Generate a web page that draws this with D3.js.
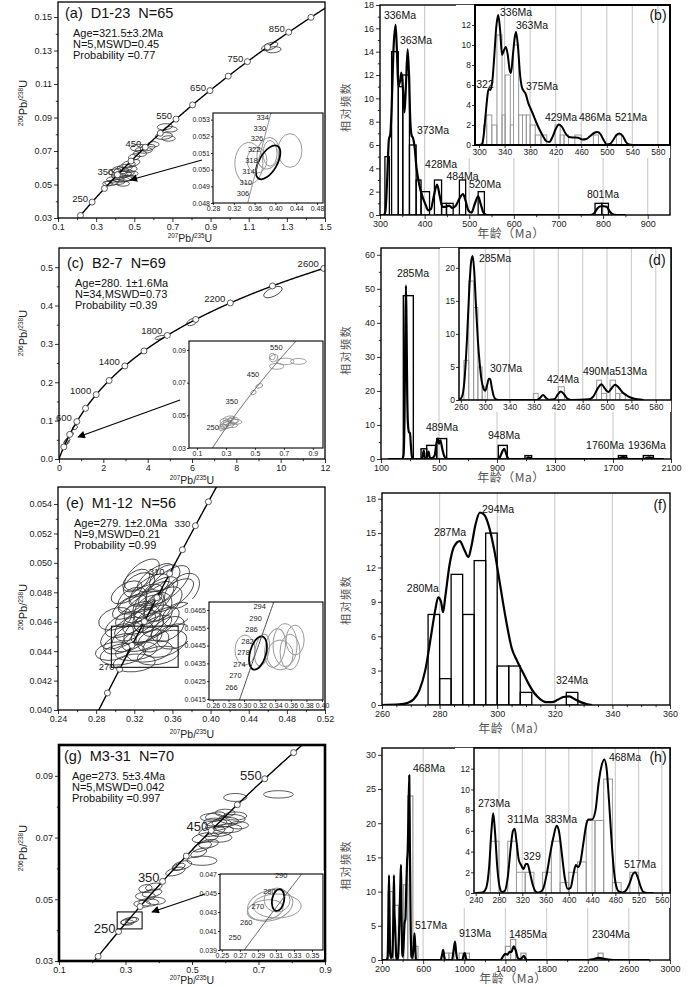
<!DOCTYPE html>
<html><head><meta charset="utf-8">
<script src="https://cdn.jsdelivr.net/npm/d3@7"></script>
<style>body{margin:0;background:#fff;} svg{display:block;}</style>
</head><body>
<script>
// ================= DATA =================
// ---- (a) D1-23 concordia ----
const ageMarksA = [200,250,300,350,400,450,500,550,600,650,700,750,800,850,900];
const ageLabelsA = [250,350,450,550,650,750,850];
const statsA = ["Age=321.5±3.2Ma","N=5,MSWD=0.45","Probability =0.77"];
// [207Pb/235U, 206Pb/238U, half-width x, half-height y, tilt deg]
const ellipsesA = [
 [0.40,0.0575,0.035,0.0018,-10],[0.43,0.058,0.04,0.002,-10],[0.45,0.060,0.04,0.002,-5],[0.47,0.062,0.035,0.002,-10],
 [0.42,0.055,0.04,0.0018,0],[0.44,0.056,0.045,0.0018,-5],[0.46,0.057,0.04,0.0018,0],[0.39,0.053,0.035,0.0016,0],
 [0.43,0.053,0.045,0.0016,0],[0.45,0.0535,0.04,0.0016,0],[0.38,0.051,0.035,0.0015,0],[0.41,0.0515,0.04,0.0015,0],
 [0.48,0.059,0.035,0.0018,-10],[0.50,0.063,0.03,0.0018,-15],[0.44,0.0505,0.035,0.0015,0],[0.47,0.054,0.035,0.0016,0],
 [0.41,0.059,0.03,0.0016,-15],[0.49,0.0565,0.03,0.0015,0],[0.36,0.0505,0.025,0.0014,0],
 [0.52,0.0720,0.04,0.002,-5],[0.55,0.0705,0.045,0.0018,0],[0.57,0.072,0.04,0.0018,-10],[0.53,0.0685,0.035,0.0018,0],
 [0.50,0.0665,0.03,0.0018,-10],[0.60,0.074,0.03,0.0016,0],
 [0.66,0.0845,0.04,0.0018,-5],[0.69,0.083,0.035,0.0016,0],[0.655,0.079,0.045,0.002,-5],[0.68,0.0775,0.035,0.0016,0],
 [1.21,0.1325,0.045,0.002,-20],[1.23,0.1305,0.04,0.0018,-5]
];
const insetAgesA = [306,310,314,318,322,326,330,334];
const insetEllA = [[0.349,0.05038,0.027,0.00125,0],[0.428,0.05115,0.023,0.00101,0],[0.386,0.05098,0.021,0.00095,10],
 [0.3896,0.05098,0.0135,0.00077,0],[0.3646,0.05056,0.019,0.00077,0]];
const insetBestA = [[0.386,0.05044,0.0173,0.00113,30]];

// ---- (c) B2-7 concordia ----
const ageMarksC = [200,400,600,800,1000,1200,1400,1600,1800,2000,2200,2400,2600];
const ageLabelsC = [600,1000,1400,1800,2200,2600];
const statsC = ["Age=280. 1±1.6Ma","N=34,MSWD=0.73","Probability =0.39"];
const ellipsesC = [[4.55,0.317,0.22,0.004,-15],[6.0,0.357,0.25,0.008,-25],[9.65,0.435,0.45,0.011,-25],
 [0.35,0.045,0.10,0.006,-40],[0.40,0.050,0.10,0.005,-40],[0.30,0.042,0.08,0.005,-40],[0.55,0.066,0.10,0.005,-40],[0.72,0.082,0.12,0.005,-30]];
const insetAgesC = [250,350,450,550];
const insetEllC = [[0.30,0.045,0.04,0.002,-20],[0.33,0.046,0.05,0.002,-10],[0.28,0.043,0.03,0.0015,0],[0.35,0.047,0.04,0.002,0],
 [0.31,0.044,0.05,0.002,-15],[0.37,0.046,0.04,0.0015,0],[0.29,0.046,0.03,0.002,0],[0.32,0.048,0.04,0.0015,-10],
 [0.34,0.044,0.04,0.0015,0],[0.27,0.042,0.02,0.0015,-20],[0.49,0.064,0.02,0.0012,-30],[0.53,0.068,0.025,0.0012,-20],
 [0.63,0.085,0.03,0.002,-30],[0.65,0.080,0.05,0.0018,0],[0.71,0.083,0.06,0.002,0],[0.80,0.083,0.055,0.0018,0],[0.62,0.086,0.02,0.002,0]];

// ---- (e) M1-12 concordia ----
const ageMarksE = [260,270,280,290,300,310,320,330,340];
const ageLabelsE = [270,310,330];
const statsE = ["Age=279. 1±2.0Ma","N=9,MSWD=0.21","Probability =0.99"];
const ellipsesE = [
 [0.330,0.0470,0.024,0.0007,-35],[0.320,0.0465,0.022,0.0006,-30],[0.340,0.0475,0.026,0.0008,-40],[0.325,0.0460,0.019,0.0007,-30],
 [0.335,0.0468,0.018,0.0008,-45],[0.345,0.0480,0.024,0.0007,-35],[0.315,0.0470,0.020,0.0006,-30],[0.350,0.0472,0.024,0.0008,-40],
 [0.310,0.0458,0.022,0.0007,-25],[0.338,0.0455,0.024,0.0006,-30],[0.328,0.0448,0.022,0.0007,-20],[0.318,0.0450,0.024,0.0008,-30],
 [0.305,0.0445,0.018,0.0006,-20],[0.348,0.0460,0.022,0.0007,-35],[0.355,0.0485,0.028,0.0008,-40],[0.360,0.0478,0.026,0.0007,-35],
 [0.342,0.0490,0.022,0.0006,-35],[0.325,0.0485,0.018,0.0007,-30],[0.332,0.0478,0.019,0.0006,-25],[0.312,0.0480,0.018,0.0006,-30],
 [0.300,0.0462,0.018,0.0007,-20],[0.336,0.0440,0.024,0.0007,-10],[0.352,0.0445,0.024,0.0008,-20],[0.362,0.0450,0.019,0.0008,-20],
 [0.322,0.0440,0.022,0.0006,-10],[0.308,0.0438,0.024,0.0007,-10],[0.298,0.0440,0.019,0.0006,-10],[0.345,0.0437,0.022,0.0006,-10],
 [0.330,0.0455,0.024,0.0008,-35],[0.340,0.0462,0.022,0.0007,-30],[0.318,0.0475,0.017,0.0007,-35],[0.328,0.0492,0.022,0.0007,-40],
 [0.345,0.0470,0.017,0.0008,-50],[0.365,0.0465,0.017,0.0007,-30],[0.370,0.0481,0.022,0.0009,-45],[0.315,0.0455,0.017,0.0007,-30],
 [0.326,0.0473,0.024,0.0006,-20],[0.336,0.0482,0.024,0.0007,-35],[0.302,0.0450,0.019,0.0007,-30],[0.355,0.0455,0.019,0.0007,-30],
 [0.320,0.0432,0.022,0.0006,-5],[0.340,0.0447,0.017,0.0007,-20],[0.333,0.0462,0.016,0.0008,-45],[0.352,0.0490,0.018,0.0007,-35],
 [0.322,0.0488,0.016,0.0006,-35]];
const boxE = [0.296,0.366,0.0429,0.0457];
const insetAgesE = [266,270,274,278,282,286,290,294];
const insetEllE = [[0.3012,0.04425,0.0128,0.00084,0],[0.3231,0.04425,0.009,0.0009,10],[0.3398,0.04436,0.0128,0.0011,10],
 [0.3526,0.04453,0.0154,0.0012,0],[0.359,0.04414,0.0128,0.0010,0],[0.3462,0.04397,0.0167,0.00084,0],[0.3655,0.04481,0.0116,0.00084,0]];
const insetBestE = [[0.3179,0.04408,0.0103,0.00096,15]];

// ---- (g) M3-31 concordia ----
const ageMarksG = [200,250,300,350,400,450,500,550,600];
const ageLabelsG = [250,350,450,550];
const statsG = ["Age=273. 5±3.4Ma","N=5,MSWD=0.042","Probability =0.997"];
const ellipsesG = [
 [0.31,0.0430,0.025,0.0010,-15],[0.32,0.0432,0.02,0.0008,-10],[0.305,0.0425,0.02,0.0009,0],
 [0.36,0.051,0.03,0.0013,0],[0.38,0.052,0.03,0.0012,-10],[0.37,0.049,0.03,0.0012,0],[0.35,0.0485,0.025,0.0011,0],
 [0.39,0.0495,0.03,0.0012,0],[0.36,0.0535,0.02,0.0012,-10],[0.385,0.054,0.025,0.0012,-10],
 [0.45,0.059,0.03,0.0012,-15],[0.47,0.061,0.03,0.0013,-15],[0.46,0.0605,0.02,0.001,-20],[0.53,0.0625,0.045,0.0015,0],
 [0.54,0.070,0.04,0.0015,-10],[0.56,0.072,0.04,0.0015,-10],[0.58,0.074,0.04,0.0016,-10],[0.60,0.075,0.04,0.0015,-5],
 [0.62,0.076,0.04,0.0015,0],[0.57,0.075,0.035,0.0013,0],[0.59,0.072,0.035,0.0015,-10],[0.55,0.068,0.03,0.0013,-10],
 [0.53,0.067,0.03,0.0013,-20],[0.61,0.073,0.04,0.0014,0],[0.63,0.077,0.035,0.0013,0],[0.60,0.078,0.03,0.0012,0],
 [0.57,0.077,0.03,0.0012,-10],[0.58,0.070,0.04,0.0015,0],[0.52,0.065,0.025,0.0012,-20],[0.64,0.074,0.03,0.0012,0],
 [0.56,0.0765,0.035,0.0013,0],[0.63,0.083,0.035,0.0013,0],[0.76,0.084,0.045,0.0012,0]];
const boxG = [0.275,0.35,0.0404,0.0459];
const insetAgesG = [250,260,270,280,290];
const insetEllG = [[0.3036,0.04368,0.0256,0.00158,-15],[0.3113,0.04363,0.0267,0.00126,0],[0.3113,0.04426,0.0144,0.00126,0],[0.298,0.04321,0.02,0.00105,-10]];
const insetBestG = [[0.3124,0.04426,0.0067,0.00116,10]];

// ---- (b) histogram ----
const barsB = [[311,321,5],[326,341,14],[341,351,11],[351,366,12],[366,381,6],[381,392,3],[392,411,2],[422,438,3],
 [438,449,1],[449,464,1],[478,492,3],[520,534,2],[782,797,1],[797,812,1]];
const curveB = [[300,0],[308,0],[312,0.3],[316,3],[320,6.5],[323,6.9],[326,9],[330,14],[335,16.3],[338,14],[341,11],[345,11.5],
 [348,12.2],[351,11],[355,8.8],[358,11],[362,14.2],[365,12],[368,8],[371,6.8],[374,6.6],[377,6],[382,4],[388,2.6],[395,1.6],
 [402,0.9],[408,0.4],[414,0.5],[420,1.5],[428,2.6],[434,1.6],[440,0.7],[447,0.7],[455,0.8],[462,0.6],[470,0.8],[478,1.4],
 [486,1.8],[492,1.2],[498,0.4],[505,0.2],[512,0.9],[520,1.6],[526,0.9],[532,0.2],[540,0],[770,0],[780,0.15],[788,0.6],
 [795,0.75],[802,0.75],[808,0.7],[815,0.3],[822,0.05],[830,0],[850,0]];
const peaksB = [["336Ma",344.8,17.15],["363Ma",380.7,15.0],["373Ma",418.8,7.3],["428Ma",437,4.35],["484Ma",485,3.3],
 ["520Ma",535.3,2.6],["801Ma",799.8,1.78]];
const barsBi = [[307,312,2],[312,320,3],[320,328,2],[328,336,11],[336,341,3],[341,349,7],[349,354,2],[354,362,10],[362,368,3],
 [368,374,3],[374,380,3],[380,388,2],[388,397,1],[397,406,1],[419,427,2],[427,433,1],[433,440,1],[450,460,1],[479,487,1],[515,523,1]];
const curveBi = [[300,0],[304,0.05],[307,0.8],[310,2.8],[313,4.8],[315,5.6],[318,5.5],[321,6.5],[324,9],[327,11.8],[330,13],
 [333,11.5],[336,9],[338,9.3],[342,9.8],[345,9],[348,7.5],[350,7.2],[353,9],[356,10.8],[358,11.3],[361,9.8],[364,7.2],[367,5.8],
 [370,5.4],[373,5.1],[377,4.2],[381,3.6],[385,3.0],[390,2.2],[395,1.5],[400,0.9],[405,0.4],[410,0.3],[415,0.8],[420,1.6],
 [425,2.06],[430,1.8],[435,1.2],[441,0.8],[448,0.75],[455,0.72],[462,0.55],[468,0.6],[474,0.9],[480,1.2],[485,1.3],[490,1.1],
 [495,0.5],[500,0.05],[505,0.1],[510,0.5],[515,1.0],[520,1.15],[525,0.9],[530,0.3],[535,0.05],[540,0]];
const peaksBi = [["336Ma",357.9,13.27],["363Ma",382.9,12.0],["322",309.4,6.1],["375Ma",398.6,5.9],["429Ma",428.3,2.75],
 ["486Ma",481.5,2.75],["521Ma",537.9,2.75]];

// ---- (d) histogram ----
const barsD = [[254,323,48],[376,415,3],[415,484,4],[484,553,6],[909,971,4],[1093,1139,1],[1737,1794,1],[1909,1978,1]];
const curveD = [[150,0],[245,0],[255,1],[262,12],[267,35],[272,51],[276,40],[280,22],[285,11],[292,8],[300,7.5],[306,4],[312,1],
 [320,0],[370,0],[385,0.5],[395,2.5],[402,0.5],[412,0.3],[420,1],[428,2.2],[436,0.5],[450,0.2],[470,1],[482,4.5],[492,6],
 [500,4.5],[510,5.5],[520,3.5],[535,1],[550,0.2],[560,0],[910,0],[925,1],[940,2.5],[950,3],[960,2],[972,0.5],[985,0],
 [1100,0],[1115,0.5],[1130,0.3],[1145,0],[1730,0],[1750,0.3],[1770,0.6],[1790,0.3],[1810,0],[1910,0],[1930,0.3],[1950,0.5],
 [1970,0.2],[1990,0],[2050,0]];
const peaksD = [["285Ma",320.7,54.7],["489Ma",520.7,9.4],["948Ma",948,7.06],["1760Ma",1645,4.1],["1936Ma",1934,4.1]];
const barsDi = [[265,273,6],[273,281,18],[281,288,14],[288,295,5],[295,304,2],[379,387,1],[420,430,2],[483,491,3],[491,499,1],
 [505,514,3],[514,521,1],[521,530,1]];
const curveDi = [[257,0],[262,0.5],[266,3],[270,9],[274,17],[277,21],[279.5,21.8],[282,19.5],[285,14],[288,9],[291,5.5],[294,3],
 [297,1.8],[300,1.4],[303,2.2],[306,3.2],[308,3.2],[311,1.8],[314,0.6],[318,0.1],[325,0],[385,0],[390,0.3],[395,0.75],[400,0.3],
 [405,0.05],[413,0.1],[419,0.8],[424,1.3],[429,0.9],[435,0.2],[442,0],[470,0.1],[478,0.6],[485,1.8],[491,2.4],[496,1.8],
 [502,1.2],[507,1.7],[513,2.3],[519,1.9],[526,1.1],[534,0.6],[541,0.3],[550,0.1],[560,0]];
const peaksDi = [["285Ma",316.1,21.5],["307Ma",334.2,4.84],["424Ma",427.7,3.18],["490Ma513Ma",513.1,4.39]];

// ---- (f) histogram ----
const barsF = [[276,280,7.9],[280,284,2.3],[284,288,11.4],[288,292,7.9],[292,296,12.6],[296,300,15],[300,304,3.4],[304,308,3.4],
 [308,312,1.1],[324,328,1.1]];
const curveF = [[260,0],[266,0.05],[269,0.2],[271,0.5],[273,1.3],[275,3],[277,6],[278.5,8.3],[279.5,9.4],[280.5,9],[281.2,8.1],
 [282,9.5],[283.5,12.3],[285,13.8],[287,14.3],[288.5,13.6],[290,12.9],[291,13.8],[292.5,15.8],[294,16.8],[295.5,16.6],[297,15.7],
 [299,13.5],[301,10.5],[303,7.5],[305,5],[307,3.8],[309,2.8],[311,1.8],[313,1],[315,0.5],[317,0.25],[319,0.25],[321,0.45],
 [323,0.7],[325,0.75],[327,0.5],[329,0.25],[331,0.08],[333,0]];
const peaksF = [["280Ma",274.2,10.2],["287Ma",283.6,15.1],["294Ma",300.3,17.1],["324Ma",326,2.18]];

// ---- (h) histogram ----
const barsH = [[260,310,10],[310,360,8],[360,410,5],[410,450,11],[450,500,24],[500,550,2],[800,850,1],[850,900,1],[950,1000,1],
 [1000,1050,1],[1400,1450,2],[1450,1500,3],[1550,1600,1],[2300,2350,1]];
const curveH = [[200,0],[245,0],[255,0.5],[262,6],[268,12.4],[274,6],[279,1],[288,0.3],[298,0.5],[310,6],[316,12.4],[321,7],
 [326,5.5],[332,3],[338,0.5],[346,0.1],[356,0.5],[370,6],[380,12],[385,13.9],[390,7],[397,1],[403,0.5],[412,3],[420,5.5],
 [428,6],[436,10.5],[444,14.5],[450,16],[457,21],[465,27],[471,17],[478,6],[486,0.5],[496,0.3],[508,2],[516,3.9],[523,2],
 [530,0.1],[540,0],[770,0],[785,0.8],[795,1.5],[805,0.5],[815,0],[880,0],[900,1.8],[910,2.7],[920,1.2],[935,0],[980,0],
 [995,0.8],[1005,1],[1018,0.2],[1030,0],[1350,0],[1380,0.6],[1400,0.9],[1420,0.8],[1440,1.2],[1460,1.2],[1480,2],[1500,1.4],
 [1520,0.3],[1545,0.1],[1565,0.4],[1580,0.6],[1595,0.2],[1610,0],[2200,0],[2260,0.15],[2304,0.3],[2350,0.2],[2400,0.05],
 [2450,0],[2800,0]];
const peaksH = [["468Ma",657,28],["517Ma",676,5.1],["913Ma",1104,3.95],["1485Ma",1619,3.8],["2304Ma",2426,3.8]];
const barsHi = [[265,280,5],[295,310,5],[310,325,2],[325,340,2],[355,370,2],[370,385,5],[385,400,1],[400,415,2],[415,430,3],
 [430,445,7],[445,460,7],[460,475,11],[475,490,1],[505,520,2]];
const curveHi = [[240,0],[252,0.05],[258,0.5],[263,2.5],[267,6],[270,7.7],[273,6],[277,2.5],[281,0.6],[285,0.1],[290,0.2],
 [295,1.5],[300,4.3],[304,6],[307,6.2],[310,5],[314,3.2],[318,2.7],[322,2.3],[326,2.8],[329,2.8],[333,2],[338,0.8],[343,0.15],
 [348,0.05],[355,0.3],[362,1.8],[368,3.8],[374,5.5],[379,6.5],[383,6],[388,3.8],[393,1.5],[398,0.4],[403,0.5],[408,1.8],
 [412,2.7],[416,2.5],[420,3],[425,4.8],[430,6.6],[434,7.1],[440,7.1],[446,8],[451,10.5],[456,12.2],[461,12.9],[465,12],
 [469,9],[473,5.5],[477,2.5],[481,0.8],[486,0.15],[492,0.05],[499,0.3],[505,1],[510,1.8],[514,2],[518,1.6],[523,0.7],
 [528,0.1],[535,0],[545,0]];
const peaksHi = [["273Ma",271.4,8.7],["311Ma",321.3,7.1],["383Ma",386.6,7.1],["329",336.7,3.57],["468Ma",496.6,13.1],["517Ma",522.4,2.8]];

// ---- tick labels ----
const ticksAx = [0.1,0.3,0.5,0.7,0.9,1.1,1.3,1.5], ticksAy = [0.03,0.05,0.07,0.09,0.11,0.13,0.15];
const ticksAix = [0.28,0.32,0.36,0.40,0.44,0.48], ticksAiy = [0.048,0.049,0.050,0.051,0.052,0.053];
const ticksCx = [0,2,4,6,8,10,12], ticksCy = [0,0.1,0.2,0.3,0.4,0.5];
const ticksCix = [0.1,0.3,0.5,0.7,0.9], ticksCiy = [0.03,0.05,0.07,0.09];
const ticksEx = [0.24,0.28,0.32,0.36,0.40,0.44,0.48,0.52], ticksEy = [0.040,0.042,0.044,0.046,0.048,0.050,0.052,0.054];
const ticksEix = [0.26,0.28,0.30,0.32,0.34,0.36,0.38,0.40], ticksEiy = [0.0415,0.0425,0.0435,0.0445,0.0455,0.0465];
const ticksGx = [0.1,0.3,0.5,0.7,0.9], ticksGy = [0.03,0.05,0.07,0.09];
const ticksGix = [0.25,0.27,0.29,0.31,0.33,0.35], ticksGiy = [0.039,0.041,0.043,0.045,0.047];
const ticksBx = [300,400,500,600,700,800,900], ticksBy = [0,2,4,6,8,10,12,14,16,18];
const ticksBix = [300,340,380,420,460,500,540,580], ticksBiy = [0,2,4,6,8,10,12];
const ticksDx = [100,500,900,1300,1700,2100], ticksDy = [0,10,20,30,40,50,60];
const ticksDix = [260,300,340,380,420,460,500,540,580], ticksDiy = [0,5,10,15,20];
const ticksFx = [260,280,300,320,340,360], ticksFy = [0,3,6,9,12,15,18];
const ticksHx = [200,600,1000,1400,1800,2200,2600,3000], ticksHy = [0,5,10,15,20,25,30];
const ticksHix = [240,280,320,360,400,440,480,520,560], ticksHiy = [0,2,4,6,8,10,12];

// ================= DRAWING =================
const FONT = '"Liberation Sans", Arial, Helvetica, sans-serif';
const CJK = '"Noto Sans CJK SC", "Noto Sans CJK TC", sans-serif';
const svg = d3.select("body").append("svg").attr("width",700).attr("height",987)
  .style("font-family",FONT).style("background","#fff");
const defs = svg.append("defs");
defs.append("marker").attr("id","arr").attr("viewBox","0 0 10 10").attr("refX",9).attr("refY",5)
  .attr("markerWidth",9).attr("markerHeight",7).attr("orient","auto")
  .append("path").attr("d","M0,0L10,5L0,10Z").attr("fill","#000");

const lam238 = 1.55125e-4, lam235 = 9.8485e-4; // per Ma
const r206 = t => Math.expm1(lam238*t), r207 = t => Math.expm1(lam235*t);

let clipN = 0;
function clip(x0,y0,x1,y1){
  const id = "cl"+(clipN++);
  defs.append("clipPath").attr("id",id).append("rect").attr("x",x0).attr("y",y0).attr("width",x1-x0).attr("height",y1-y0);
  return `url(#${id})`;
}
function drawEll(g,list,x,y,stroke,sw){
  g.selectAll(null).data(list).join("ellipse")
   .attr("cx",d=>x(d[0])).attr("cy",d=>y(d[1]))
   .attr("rx",d=>Math.abs(x(d[0]+d[2])-x(d[0]))).attr("ry",d=>Math.abs(y(d[1])-y(d[1]+d[3])))
   .attr("transform",d=>`rotate(${d[4]},${x(d[0])},${y(d[1])})`)
   .attr("fill","none").attr("stroke",stroke).attr("stroke-width",sw);
}
function axes(g,x,y,o){
  const yb = y.range()[0], xl = x.range()[0];
  const ts = o.ts ?? 4, fs = o.fs ?? 9;
  const ax = g.append("g").attr("transform",`translate(0,${yb})`)
    .call(d3.axisBottom(x).tickValues(o.xt).tickFormat(d3.format(o.fx)).tickSize(ts).tickPadding(o.pad ?? 2));
  const ay = g.append("g").attr("transform",`translate(${xl},0)`)
    .call(d3.axisLeft(y).tickValues(o.yt).tickFormat(d3.format(o.fy)).tickSize(ts).tickPadding(o.pad ?? 2));
  const parts = [ax,ay];
  if(o.xm) parts.push(g.append("g").attr("transform",`translate(0,${yb})`).call(d3.axisBottom(x).tickValues(o.xm).tickFormat("").tickSize(ts*0.55)));
  if(o.ym) parts.push(g.append("g").attr("transform",`translate(${xl},0)`).call(d3.axisLeft(y).tickValues(o.ym).tickFormat("").tickSize(ts*0.55)));
  parts.forEach(p=>{
    p.attr("font-size",fs).attr("font-family",FONT);
    p.select(".domain").remove();
    p.selectAll("line").attr("stroke","#000").attr("stroke-width",0.8);
    p.selectAll("text").attr("fill","#1a1a1a");
  });
}
function frame(g,x,y,w){
  const [x0,x1] = x.range(), [y1,y0] = y.range();
  g.append("rect").attr("x",x0).attr("y",y0).attr("width",x1-x0).attr("height",y1-y0)
   .attr("fill","none").attr("stroke","#000").attr("stroke-width",w);
}
function pbLabel(g,cx,cy,rot,a,b,fs){
  const t = g.append("text").attr("transform",`translate(${cx},${cy}) rotate(${rot})`).attr("text-anchor","middle")
    .attr("font-size",fs).attr("fill","#222");
  t.append("tspan").attr("font-size",fs*0.6).attr("dy",-fs*0.4).text(a);
  t.append("tspan").attr("dy",fs*0.4).text("Pb/");
  t.append("tspan").attr("font-size",fs*0.6).attr("dy",-fs*0.4).text(b);
  t.append("tspan").attr("dy",fs*0.4).text("U");
}
function cjkLabel(g,cx,cy,rot,str,fs){
  g.append("text").attr("transform",`translate(${cx},${cy}) rotate(${rot})`).attr("text-anchor","middle")
   .attr("font-family",CJK).attr("font-size",fs).attr("fill","#555").attr("letter-spacing",rot?1.5:0.5).text(str);
}
function infoText(g,x,y,title,stats){
  g.append("text").attr("x",x).attr("y",y).attr("font-size",14.5).attr("fill","#111").style("white-space","pre").text(title);
  stats.forEach((s,i)=>g.append("text").attr("x",x+8).attr("y",y+19+i*11).attr("font-size",11).attr("fill","#111").text(s));
}

function concPanel(o){
  const g = svg.append("g");
  const x = d3.scaleLinear().domain(o.xd).range([o.x0,o.x1]);
  const y = d3.scaleLinear().domain(o.yd).range([o.y1,o.y0]);
  if(o.bg) g.append("rect").attr("x",o.bg[0]).attr("y",o.bg[1]).attr("width",o.bg[2]-o.bg[0]).attr("height",o.bg[3]-o.bg[1]).attr("fill","#fff");
  const pg = g.append("g").attr("clip-path",clip(o.x0,o.y0,o.x1,o.y1));
  drawEll(pg,o.ell,x,y,o.ellColor,o.ellW);
  if(o.best) drawEll(pg,o.best,x,y,"#000",1.8);
  const ts = d3.range(o.tr[0],o.tr[1],o.step).concat([o.tr[1]]);
  pg.append("path").datum(ts).attr("d",d3.line().x(t=>x(r207(t))).y(t=>y(r206(t))))
    .attr("fill","none").attr("stroke",o.lineColor).attr("stroke-width",o.lineW);
  if(o.marks) pg.selectAll(null).data(o.marks).join("circle").attr("cx",t=>x(r207(t))).attr("cy",t=>y(r206(t)))
    .attr("r",o.cr).attr("fill","#fff").attr("stroke","#333").attr("stroke-width",0.8);
  if(o.box) pg.append("rect").attr("x",x(o.box[0])).attr("y",y(o.box[3])).attr("width",x(o.box[1])-x(o.box[0]))
    .attr("height",y(o.box[2])-y(o.box[3])).attr("fill","none").attr("stroke","#111").attr("stroke-width",1.1);
  g.selectAll(null).data(o.labels).join("text").attr("x",t=>x(r207(t))+o.ldx).attr("y",t=>y(r206(t))+o.ldy)
    .attr("text-anchor","end").attr("font-size",o.lfs).attr("fill","#222").text(t=>t);
  axes(g,x,y,o.ax);
  frame(g,x,y,o.fw);
  return {x,y,g};
}
function histPanel(o){
  const g = svg.append("g");
  const x = d3.scaleLinear().domain(o.xd).range([o.x0,o.x1]);
  const y = d3.scaleLinear().domain(o.yd).range([o.y1,o.y0]);
  if(o.bg) g.append("rect").attr("x",o.bg[0]).attr("y",o.bg[1]).attr("width",o.bg[2]-o.bg[0]).attr("height",o.bg[3]-o.bg[1]).attr("fill","#fff");
  g.selectAll(null).data(o.grid).join("line").attr("x1",d=>x(d)).attr("x2",d=>x(d)).attr("y1",o.y0).attr("y2",o.y1)
    .attr("stroke","#cfcfcf").attr("stroke-width",1.2);
  const pg = g.append("g").attr("clip-path",clip(o.x0,o.y0,o.x1,o.y1));
  pg.selectAll(null).data(o.bars).join("rect").attr("x",d=>x(d[0])).attr("width",d=>x(d[1])-x(d[0]))
    .attr("y",d=>y(d[2])).attr("height",d=>y(0)-y(d[2])).attr("fill","none").attr("stroke",o.barColor).attr("stroke-width",o.barW);
  pg.append("path").datum(o.curve).attr("d",d3.line().x(d=>x(d[0])).y(d=>y(d[1])).curve(d3.curveMonotoneX))
    .attr("fill","none").attr("stroke","#000").attr("stroke-width",o.cw).attr("stroke-linejoin","round");
  g.selectAll(null).data(o.labels).join("text").attr("x",d=>x(d[1])).attr("y",d=>y(d[2])).attr("dy","0.35em")
    .attr("text-anchor","middle").attr("font-size",o.lfs).attr("fill","#111").text(d=>d[0]);
  axes(g,x,y,o.ax);
  frame(g,x,y,o.fw);
  return {x,y,g};
}
function arrow(p,from,to){
  svg.append("line").attr("x1",p.x(from[0])).attr("y1",p.y(from[1])).attr("x2",p.x(to[0])).attr("y2",p.y(to[1]))
    .attr("stroke","#000").attr("stroke-width",1.1).attr("marker-end","url(#arr)");
}
function panelTag(x,y,s){ svg.append("text").attr("x",x).attr("y",y).attr("font-size",14).attr("fill","#111").attr("text-anchor","middle").text(s); }

// ---------- (a) ----------
const pA = concPanel({xd:[0.1,1.5],yd:[0.03,0.159],x0:58,x1:325,y0:2,y1:218,ell:ellipsesA,ellColor:"#333",ellW:0.8,
  tr:[190,960],step:2,lineColor:"#000",lineW:1.4,marks:ageMarksA,cr:3,labels:ageLabelsA,ldx:-4,ldy:0,lfs:9.5,fw:1.3,
  ax:{xt:ticksAx,yt:ticksAy,fx:".1f",fy:".2f",xm:d3.range(0.2,1.45,0.2),ym:d3.range(0.04,0.155,0.02),fs:9}});
infoText(svg,65,18,"(a)  D1-23  N=65",statsA);
pbLabel(svg,27,103,-90,"206","238",11);
pbLabel(svg,190,242,0,"207","235",10.5);
const pAi = concPanel({xd:[0.28,0.4915],yd:[0.048,0.0534],x0:213,x1:323,y0:113,y1:203,bg:[190,110,324,215],
  ell:insetEllA,ellColor:"#999",ellW:1,best:insetBestA,tr:[300,340],step:0.5,lineColor:"#888",lineW:1,
  labels:insetAgesA,ldx:-1,ldy:3,lfs:7.5,fw:1.1,ax:{xt:ticksAix,yt:ticksAiy,fx:".2f",fy:".3f",fs:7,ts:2,pad:1}});
arrow(pA,[0.855,0.0646],[0.478,0.0527]);

// ---------- (c) ----------
const pC = concPanel({xd:[0,12],yd:[0,0.55],x0:59,x1:325,y0:248,y1:459,ell:ellipsesC,ellColor:"#333",ellW:0.8,
  tr:[0,2620],step:5,lineColor:"#000",lineW:1.4,marks:ageMarksC,cr:3,labels:ageLabelsC,ldx:-5,ldy:-1,lfs:9.5,fw:1.3,
  ax:{xt:ticksCx,yt:ticksCy,fx:"d",fy:".1f",xm:d3.range(1,12,2),ym:d3.range(0.05,0.55,0.1),fs:9}});
infoText(svg,67,268,"(c)  B2-7  N=69",statsC);
pbLabel(svg,27,333,-90,"206","238",11);
pbLabel(svg,192,484,0,"207","235",10.5);
const pCi = concPanel({xd:[0.045,0.97],yd:[0.03,0.0955],x0:189,x1:323,y0:341,y1:448,bg:[168,338,324,458],
  ell:insetEllC,ellColor:"#888",ellW:0.8,tr:[150,640],step:2,lineColor:"#555",lineW:1,
  labels:insetAgesC,ldx:-4,ldy:-2,lfs:7.5,fw:1.1,ax:{xt:ticksCix,yt:ticksCiy,fx:".1f",fy:".2f",fs:7,ts:2,pad:1}});
arrow(pC,[5.46,0.1538],[0.857,0.0574]);

// ---------- (e) ----------
const pE = concPanel({xd:[0.24,0.52],yd:[0.040,0.05516],x0:58,x1:325,y0:487,y1:710,ell:ellipsesE,ellColor:"#333",ellW:0.8,
  tr:[250,350],step:1,lineColor:"#000",lineW:1.4,marks:ageMarksE,cr:3,labels:ageLabelsE,ldx:-5,ldy:1,lfs:9.5,fw:1.3,box:boxE,
  ax:{xt:ticksEx,yt:ticksEy,fx:".2f",fy:".3f",xm:d3.range(0.26,0.52,0.04),ym:d3.range(0.041,0.055,0.002),fs:9}});
infoText(svg,66,508,"(e)  M1-12  N=56",statsE);
pbLabel(svg,27,607,-90,"206","238",11);
pbLabel(svg,192,738,0,"207","235",10.5);
const pEi = concPanel({xd:[0.255,0.4013],yd:[0.04144,0.04695],x0:209,x1:323,y0:602,y1:700,bg:[188,599,324,709],
  ell:insetEllE,ellColor:"#999",ellW:1,best:insetBestE,tr:[255,300],step:0.5,lineColor:"#444",lineW:1,
  labels:insetAgesE,ldx:-6,ldy:2,lfs:7.5,fw:1.1,ax:{xt:ticksEix,yt:ticksEiy,fx:".2f",fy:".4f",fs:7,ts:2,pad:1}});

// ---------- (g) ----------
const pG = concPanel({xd:[0.1,0.9],yd:[0.03,0.1],x0:59,x1:325,y0:745,y1:961,ell:ellipsesG,ellColor:"#333",ellW:0.8,
  tr:[190,620],step:1,lineColor:"#000",lineW:1.4,marks:ageMarksG,cr:3,labels:ageLabelsG,ldx:-3,ldy:1,lfs:13,fw:2.6,box:boxG,
  ax:{xt:ticksGx,yt:ticksGy,fx:".1f",fy:".2f",xm:d3.range(0.2,0.9,0.2),ym:d3.range(0.04,0.1,0.02),fs:9}});
infoText(svg,64,761,"(g)  M3-31  N=70",statsG);
pbLabel(svg,27,848,-90,"206","238",11);
pbLabel(svg,192,984,0,"207","235",10.5);
const pGi = concPanel({xd:[0.248,0.3622],yd:[0.039,0.047],x0:220,x1:323,y0:874,y1:950,bg:[198,871,324,959],
  ell:insetEllG,ellColor:"#999",ellW:1,best:insetBestG,tr:[240,300],step:0.5,lineColor:"#555",lineW:1,
  labels:insetAgesG,ldx:-7,ldy:-5,lfs:7.5,fw:1.1,ax:{xt:ticksGix,yt:ticksGiy,fx:".2f",fy:".3f",fs:7,ts:2,pad:1}});
arrow(pG,[0.539,0.05173],[0.3797,0.0459]);

// ---------- (b) ----------
histPanel({xd:[300,950],yd:[0,18],x0:380,x1:670,y0:5,y1:215,grid:[400,500,600,700,800,900],bars:barsB,barColor:"#000",barW:1.3,
  curve:curveB,cw:2.2,labels:peaksB,lfs:10.5,fw:1.4,
  ax:{xt:ticksBx,yt:ticksBy,fx:"d",fy:"d",ym:d3.range(1,18,2),xm:d3.range(350,950,100),fs:9}});
histPanel({xd:[293.7,598.9],yd:[0,14],x0:475,x1:670,y0:5,y1:145,bg:[456,5,670,158],grid:[340,380,420,460,500,540,580],
  bars:barsBi,barColor:"#999",barW:1,curve:curveBi,cw:2,labels:peaksBi,lfs:10.5,fw:2,
  ax:{xt:ticksBix,yt:ticksBiy,fx:"d",fy:"d",fs:8.5,ts:3,pad:1}});
panelTag(658,20,"(b)");
cjkLabel(svg,350,107,-90,"相对频数",11);
cjkLabel(svg,511,238,0,"年龄（Ma）",12);

// ---------- (d) ----------
histPanel({xd:[100,2100],yd:[0,62],x0:381,x1:671,y0:248,y1:459,grid:[500,900,1300,1700],bars:barsD,barColor:"#000",barW:1.4,
  curve:curveD,cw:2.2,labels:peaksD,lfs:10.5,fw:1.4,
  ax:{xt:ticksDx,yt:ticksDy,fx:"d",fy:"d",ym:d3.range(5,62,10),xm:d3.range(300,2100,400),fs:9}});
histPanel({xd:[257,605],yd:[0,23],x0:459,x1:671,y0:248,y1:400,bg:[440,248,671,412],grid:[300,340,380,420,460,500,540,580],
  bars:barsDi,barColor:"#999",barW:1,curve:curveDi,cw:2,labels:peaksDi,lfs:10.5,fw:1.5,
  ax:{xt:ticksDix,yt:ticksDiy,fx:"d",fy:"d",fs:8.5,ts:3,pad:1}});
panelTag(657,265,"(d)");
cjkLabel(svg,350,350,-90,"相对频数",11);
cjkLabel(svg,511,482,0,"年龄（Ma）",12);

// ---------- (f) ----------
histPanel({xd:[260,360],yd:[0,18.5],x0:382,x1:670,y0:493,y1:705,grid:[280,300,320,340],bars:barsF,barColor:"#000",barW:1.3,
  curve:curveF,cw:2.2,labels:peaksF,lfs:10.5,fw:1.4,
  ax:{xt:ticksFx,yt:ticksFy,fx:"d",fy:"d",ym:d3.range(1,18.5,1).filter(v=>v%3),xm:d3.range(265,360,5).filter(v=>v%20),fs:9}});
panelTag(660,510,"(f)");
cjkLabel(svg,350,600,-90,"相对频数",11);
cjkLabel(svg,512,733,0,"年龄（Ma）",12);

// ---------- (h) ----------
histPanel({xd:[200,3000],yd:[0,31],x0:382,x1:670,y0:748,y1:960,grid:[600,1000,1400,1800,2200,2600],bars:barsH,barColor:"#999",barW:1.2,
  curve:curveH,cw:2.2,labels:peaksH,lfs:10.5,fw:1.4,
  ax:{xt:ticksHx,yt:ticksHy,fx:"d",fy:"d",xm:d3.range(400,3000,400),fs:9}});
histPanel({xd:[237,574],yd:[0,14],x0:474,x1:670,y0:748,y1:893,bg:[455,748,670,908],grid:[280,320,360,400,440,480,520,560],
  bars:barsHi,barColor:"#999",barW:1,curve:curveHi,cw:2,labels:peaksHi,lfs:10.5,fw:1.5,
  ax:{xt:ticksHix,yt:ticksHiy,fx:"d",fy:"d",fs:8.5,ts:3,pad:1}});
panelTag(658,762,"(h)");
cjkLabel(svg,350,865,-90,"相对频数",11);
cjkLabel(svg,513,983,0,"年龄（Ma）",12);
</script>
</body></html>
